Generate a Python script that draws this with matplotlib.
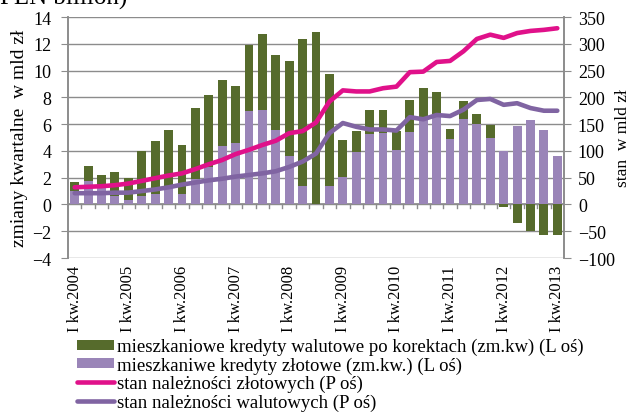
import matplotlib
matplotlib.use("Agg")
import matplotlib.pyplot as plt
import numpy as np
from matplotlib.patches import Patch
from matplotlib.lines import Line2D

plt.rcParams['font.family'] = ['Liberation Serif', 'DejaVu Serif']

years = list(range(2004, 2014))
tick_labels = [f"I kw.{y}" for y in years]

# total quarterly change (top of stacked positive bar) and zloty part
walutowe_top = [1.65, 2.88, 2.2, 2.46, 1.94, 4.0, 4.74, 5.53, 4.47, 7.17,
                8.19, 9.33, 8.88, 11.94, 12.73, 11.19, 10.72, 12.33, 12.85, 9.72,
                4.8, 5.47, 7.04, 7.09, 5.45, 7.77, 8.73, 8.42, 5.67, 7.72,
                6.74, 5.94, -0.21, -1.41, -1.96, -2.31, -2.31]
zlotowe = [1.0, 1.74, 1.2, 0.62, 0.32, 0.62, 0.77, 1.3, 0.77, 1.9,
           2.8, 4.39, 4.59, 7.0, 7.07, 5.58, 3.6, 1.41, 0.0, 1.41,
           2.03, 3.88, 5.29, 5.33, 4.09, 5.4, 6.3, 6.5, 4.92, 6.35,
           6.02, 4.94, 4.0, 5.83, 6.33, 5.53, 3.6]
stan_zlotowe = [32, 33, 34, 36, 39, 44, 49, 54, 58, 66,
                75, 83, 94, 102, 111, 119, 133, 137, 153, 192,
                213, 211, 211, 217, 220, 247, 248, 266, 268, 286,
                309, 317, 311, 320, 324, 326, 329]
stan_walutowe = [21, 21, 21, 22, 22, 25, 28, 32, 37, 41,
                 45, 48, 52, 55, 58, 62, 70, 80, 95, 133,
                 152, 145, 140, 140, 138, 163, 159, 167, 165, 177,
                 195, 197, 186, 189, 180, 175, 175]

legend_labels = ["mieszkaniowe kredyty walutowe po korektach (zm.kw) (L oś)",
                 "mieszkaniwe kredyty złotowe (zm.kw.) (L oś)",
                 "stan należności złotowych (P oś)",
                 "stan należności walutowych (P oś)"]

c_green = "#566b2c"
c_purple_bar = "#9a85b8"
c_pink = "#e0118a"
c_purple_line = "#8064a2"
c_grid = "#8c8c8c"

n = len(walutowe_top)
x = np.arange(n)
wal = np.array(walutowe_top)
zl = np.array(zlotowe)
green_bottom = np.where(wal >= 0, zl, 0.0)
green_height = np.where(wal >= 0, wal - zl, wal)

fig = plt.figure(figsize=(6.33, 4.14), dpi=100)
ax = fig.add_axes([68/633, 1-259/414, (564-68)/633, (259-18)/414])
ax2 = ax.twinx()

ax.set_zorder(1)
ax2.set_zorder(2)
ax2.patch.set_visible(False)

ax.bar(x, zl, width=0.66, color=c_purple_bar, zorder=3)
ax.bar(x, green_height, bottom=green_bottom, width=0.66, color=c_green, zorder=3)

ax.set_ylim(-4, 14)
ax.set_yticks(np.arange(-4, 15, 2))
ax.set_xlim(-0.5, n - 0.5)
ax.yaxis.grid(True, color=c_grid, linewidth=1.0, zorder=0)
ax.set_axisbelow(True)
ax.axhline(0, color=c_grid, linewidth=1.2, zorder=2)
for b in np.arange(0.5, n - 0.5, 1):
    ax.plot([b, b], [0, -0.3], color=c_grid, linewidth=1.0, zorder=2, clip_on=False)

ax.set_xticks(np.arange(0, n, 4))
ax.set_xticklabels(tick_labels, rotation=90, fontsize=12)
ax.tick_params(axis='x', length=0, pad=5)
ax.tick_params(axis='y', length=5, color=c_grid, labelsize=13, pad=7)

ax2.plot(x, stan_zlotowe, color=c_pink, linewidth=3.3, solid_capstyle='round')
ax2.plot(x, stan_walutowe, color=c_purple_line, linewidth=3.3, solid_capstyle='round')
ax2.set_ylim(-100, 350)
ax2.set_yticks(np.arange(-100, 351, 50))
ax2.tick_params(axis='y', length=5, color=c_grid, labelsize=13, pad=5)

for a in (ax, ax2):
    for s in ('top', 'bottom'):
        a.spines[s].set_visible(False)
    a.spines['left'].set_color(c_grid)
    a.spines['right'].set_color(c_grid)
    a.spines['left'].set_linewidth(1.2)
    a.spines['right'].set_linewidth(1.2)

ax.set_ylabel("zmiany kwartalne  w mld zł", fontsize=14, labelpad=3)
ax2.set_ylabel("stan  w mld zł", fontsize=12.5, labelpad=0)

fig.text(0.0, 1 - 5/414, "PLN billion)", fontsize=18, ha='left', va='baseline')

handles = [Patch(facecolor=c_green, edgecolor='none'),
           Patch(facecolor=c_purple_bar, edgecolor='none'),
           Line2D([0], [0], color=c_pink, linewidth=3.3, solid_capstyle='round'),
           Line2D([0], [0], color=c_purple_line, linewidth=3.3, solid_capstyle='round')]
fig.legend(handles, legend_labels, loc='upper left', bbox_to_anchor=(77/633, 1 - 339/414),
           frameon=False, fontsize=13.5, handlelength=1.95, handleheight=0.45,
           handletextpad=0.2, labelspacing=0.06, borderpad=0, borderaxespad=0)

fig.savefig("out.png", dpi=100)
